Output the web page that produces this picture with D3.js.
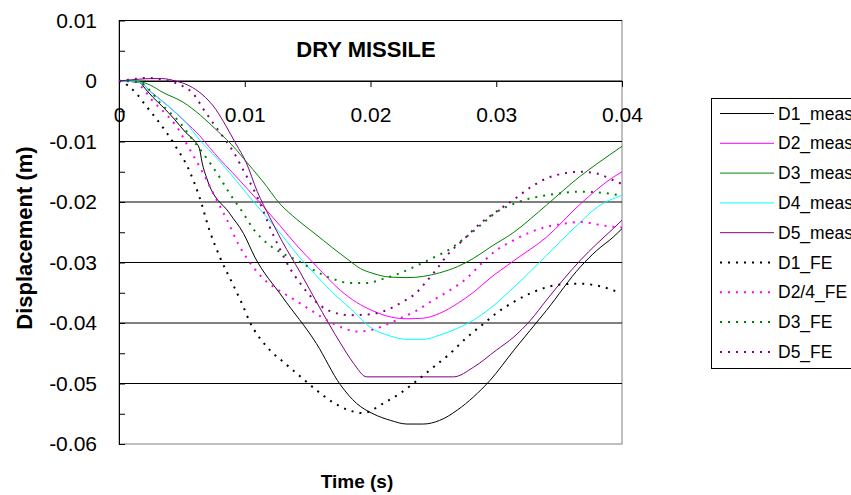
<!DOCTYPE html>
<html>
<head>
<meta charset="utf-8">
<script src="https://cdn.jsdelivr.net/npm/d3@7"></script>
<style>
  body { margin: 0; background: #fff; }
  svg text { font-family: "Liberation Sans", Arial, sans-serif; fill: #000; }
</style>
</head>
<body>
<div id="chart"></div>
<script>
// values: [time (s), displacement (m)]
var d1Meas = [[0,0],[0.0016,-0.0002],[0.0021,-0.0013],[0.0027,-0.0027],[0.0034,-0.0041],[0.0044,-0.0063],
  [0.0053,-0.0085],[0.0060,-0.0099],[0.0064,-0.0112],[0.0066,-0.0134],[0.0070,-0.0162],[0.0088,-0.0219],
  [0.0099,-0.0252],[0.0108,-0.0291],[0.0130,-0.0357],[0.0157,-0.0434],[0.0176,-0.0502],[0.0189,-0.0533],
  [0.0202,-0.0550],[0.0216,-0.0561],[0.0229,-0.0567],[0.0242,-0.0567],[0.0255,-0.0561],[0.0269,-0.0544],
  [0.0282,-0.0522],[0.0295,-0.0495],[0.0314,-0.0445],[0.0340,-0.0379],[0.0367,-0.0307],[0.0380,-0.0280],
  [0.0393,-0.0258],[0.0400,-0.0244]];
var d2Meas = [[0,0],[0.0016,-0.0002],[0.0026,-0.0019],[0.0040,-0.0043],[0.0053,-0.0068],[0.0064,-0.0090],
  [0.0072,-0.0110],[0.0080,-0.0129],[0.0090,-0.0151],[0.0102,-0.0178],[0.0115,-0.0208],[0.0128,-0.0239],
  [0.0141,-0.0271],[0.0157,-0.0306],[0.0176,-0.0346],[0.0189,-0.0366],[0.0202,-0.0380],[0.0216,-0.0390],
  [0.0229,-0.0393],[0.0242,-0.0392],[0.0255,-0.0384],[0.0269,-0.0368],[0.0282,-0.0349],[0.0295,-0.0326],
  [0.0314,-0.0297],[0.0340,-0.0258],[0.0367,-0.0203],[0.0393,-0.0159],[0.0400,-0.0150]];
var d3Meas = [[0,0],[0.0016,-0.0001],[0.0025,-0.0007],[0.0035,-0.0019],[0.0051,-0.0035],[0.0065,-0.0057],
  [0.0078,-0.0082],[0.0093,-0.0113],[0.0099,-0.0128],[0.0114,-0.0165],[0.0128,-0.0203],[0.0141,-0.0228],
  [0.0155,-0.0251],[0.0170,-0.0276],[0.0182,-0.0295],[0.0192,-0.0310],[0.0202,-0.0318],[0.0215,-0.0324],
  [0.0229,-0.0325],[0.0242,-0.0323],[0.0255,-0.0317],[0.0269,-0.0307],[0.0282,-0.0293],[0.0295,-0.0275],
  [0.0314,-0.0250],[0.0340,-0.0205],[0.0367,-0.0157],[0.0380,-0.0137],[0.0400,-0.0108]];
var d4Meas = [[0,0],[0.0016,-0.0002],[0.0026,-0.0020],[0.0040,-0.0043],[0.0053,-0.0068],[0.0064,-0.0097],
  [0.0078,-0.0128],[0.0091,-0.0159],[0.0104,-0.0192],[0.0117,-0.0224],[0.0130,-0.0256],[0.0143,-0.0290],
  [0.0157,-0.0322],[0.0170,-0.0350],[0.0184,-0.0376],[0.0202,-0.0410],[0.0215,-0.0421],[0.0229,-0.0427],
  [0.0242,-0.0427],[0.0255,-0.0420],[0.0269,-0.0409],[0.0282,-0.0395],[0.0295,-0.0376],[0.0314,-0.0341],
  [0.0340,-0.0288],[0.0367,-0.0233],[0.0380,-0.0209],[0.0400,-0.0189]];
var d5Meas = [[0,0],[0.0016,0.0003],[0.0026,0.0004],[0.0034,0.0004],[0.0045,0],[0.0056,-0.0008],
  [0.0066,-0.0022],[0.0077,-0.0047],[0.0085,-0.0074],[0.0093,-0.0104],[0.0101,-0.0134],[0.0110,-0.0183],
  [0.0120,-0.0226],[0.0130,-0.0266],[0.0144,-0.0316],[0.0157,-0.0365],[0.0176,-0.0433],[0.0186,-0.0465],
  [0.0197,-0.0489],[0.0266,-0.0489],[0.0282,-0.0473],[0.0300,-0.0445],[0.0314,-0.0423],[0.0327,-0.0396],
  [0.0340,-0.0362],[0.0353,-0.0329],[0.0367,-0.0296],[0.0380,-0.0269],[0.0393,-0.0244],[0.0400,-0.0230]];
var d1FE = [[0,0],[0.0003,-0.0002],[0.0008,-0.0009],[0.0014,-0.0021],[0.0021,-0.0040],[0.0028,-0.0058],
  [0.0035,-0.0077],[0.0045,-0.0108],[0.0055,-0.0144],[0.0064,-0.0192],[0.0072,-0.0247],[0.0080,-0.0290],
  [0.0091,-0.0338],[0.0098,-0.0369],[0.0104,-0.0398],[0.0117,-0.0438],[0.0131,-0.0465],[0.0144,-0.0488],
  [0.0157,-0.0511],[0.0170,-0.0531],[0.0184,-0.0545],[0.0194,-0.0549],[0.0210,-0.0533],[0.0223,-0.0517],
  [0.0237,-0.0495],[0.0250,-0.0473],[0.0263,-0.0451],[0.0276,-0.0425],[0.0290,-0.0401],[0.0300,-0.0384],
  [0.0314,-0.0365],[0.0327,-0.0351],[0.0340,-0.0341],[0.0353,-0.0336],[0.0367,-0.0335],[0.0380,-0.0338],
  [0.0397,-0.0349]];
var d24FE = [[0,0],[0.0011,0],[0.0018,-0.0010],[0.0026,-0.0031],[0.0036,-0.0052],[0.0045,-0.0073],
  [0.0056,-0.0112],[0.0067,-0.0153],[0.0075,-0.0186],[0.0086,-0.0230],[0.0095,-0.0270],[0.0103,-0.0297],
  [0.0110,-0.0316],[0.0117,-0.0331],[0.0125,-0.0343],[0.0139,-0.0361],[0.0152,-0.0378],[0.0165,-0.0395],
  [0.0178,-0.0408],[0.0189,-0.0414],[0.0200,-0.0412],[0.0210,-0.0405],[0.0223,-0.0393],[0.0237,-0.0379],
  [0.0250,-0.0362],[0.0263,-0.0346],[0.0276,-0.0327],[0.0290,-0.0298],[0.0300,-0.0280],[0.0314,-0.0263],
  [0.0327,-0.0250],[0.0340,-0.0241],[0.0353,-0.0236],[0.0367,-0.0233],[0.0380,-0.0237],[0.0393,-0.0241],
  [0.0400,-0.0242]];
var d3FE = [[0,0],[0.0016,-0.0002],[0.0026,-0.0019],[0.0033,-0.0037],[0.0040,-0.0051],[0.0049,-0.0070],
  [0.0056,-0.0090],[0.0067,-0.0120],[0.0080,-0.0159],[0.0088,-0.0186],[0.0099,-0.0219],[0.0107,-0.0245],
  [0.0114,-0.0261],[0.0120,-0.0272],[0.0130,-0.0285],[0.0144,-0.0299],[0.0157,-0.0315],[0.0170,-0.0327],
  [0.0184,-0.0334],[0.0197,-0.0334],[0.0210,-0.0327],[0.0223,-0.0318],[0.0237,-0.0305],[0.0250,-0.0292],
  [0.0263,-0.0278],[0.0276,-0.0258],[0.0290,-0.0234],[0.0300,-0.0217],[0.0314,-0.0203],[0.0327,-0.0194],
  [0.0340,-0.0189],[0.0353,-0.0185],[0.0367,-0.0183],[0.0380,-0.0184],[0.0393,-0.0187],[0.0400,-0.0190]];
var d5FE = [[0,0],[0.0011,0.0003],[0.0022,0.0005],[0.0033,0.0003],[0.0043,-0.0002],[0.0051,-0.0009],
  [0.0059,-0.0021],[0.0067,-0.0046],[0.0075,-0.0070],[0.0083,-0.0093],[0.0091,-0.0117],[0.0099,-0.0148],
  [0.0110,-0.0192],[0.0115,-0.0216],[0.0120,-0.0242],[0.0128,-0.0278],[0.0136,-0.0310],[0.0144,-0.0334],
  [0.0152,-0.0355],[0.0160,-0.0371],[0.0170,-0.0382],[0.0184,-0.0387],[0.0197,-0.0386],[0.0210,-0.0381],
  [0.0223,-0.0368],[0.0237,-0.0349],[0.0245,-0.0330],[0.0253,-0.0310],[0.0261,-0.0288],[0.0274,-0.0262],
  [0.0287,-0.0236],[0.0300,-0.0216],[0.0314,-0.0196],[0.0327,-0.0176],[0.0340,-0.0161],[0.0353,-0.0153],
  [0.0367,-0.0150],[0.0380,-0.0153],[0.0388,-0.0159],[0.0396,-0.0167],[0.0400,-0.0170]];

var seriesNames = ["D1_meas", "D2_meas", "D3_meas", "D4_meas", "D5_meas", "D1_FE", "D2/4_FE", "D3_FE", "D5_FE"];
var seriesData = [d1Meas, d2Meas, d3Meas, d4Meas, d5Meas, d1FE, d24FE, d3FE, d5FE];
var xTicks = [0, 0.01, 0.02, 0.03, 0.04];
var yTicks = [0.01, 0, -0.01, -0.02, -0.03, -0.04, -0.05, -0.06];
var yMinorTicks = [0.01, 0.005, 0, -0.005, -0.01, -0.015, -0.02, -0.025, -0.03, -0.035, -0.04, -0.045, -0.05, -0.055, -0.06];

// styles
var colors = ["#000000", "#ff00ff", "#008000", "#00ffff", "#800080", "#000000", "#ff00ff", "#008000", "#800080"];
var dotted = [false, false, false, false, false, true, true, true, true];

var svgWidth = 851;
var svgHeight = 495;

var svg = d3.select("#chart")
  .append("svg")
  .attr("width", svgWidth)
  .attr("height", svgHeight);

var x = d3.scaleLinear().domain([0, 0.04]).range([119, 622]);
var y = d3.scaleLinear().domain([0.01, -0.06]).range([20.5, 444]);

function fmt(d) {
  return d === 0 ? "0" : d3.format(".2f")(d).replace("−", "-");
}

// plot area border
svg.append("rect")
  .attr("x", x(0)).attr("y", y(0.01))
  .attr("width", x(0.04) - x(0)).attr("height", y(-0.06) - y(0.01))
  .attr("fill", "none").attr("stroke", "#808080");

// gridlines
svg.append("g").selectAll("line")
  .data(yTicks.slice(0, -1))
  .enter().append("line")
  .attr("x1", x(0)).attr("x2", x(0.04))
  .attr("y1", d => y(d)).attr("y2", d => y(d))
  .attr("stroke", "#000");

// y axis (inner ticks)
var yAxis = svg.append("g")
  .attr("transform", `translate(${x(0)},0)`)
  .call(d3.axisLeft(y).tickValues(yMinorTicks).tickSize(-6).tickSizeOuter(0)
    .tickPadding(22)
    .tickFormat(d => yTicks.some(v => Math.abs(v - d) < 1e-9) ? fmt(d) : ""));
yAxis.select(".domain").attr("stroke", "#000");
yAxis.selectAll("text").style("font-size", "21px").attr("fill", "#000");

// x axis crossing at zero
var xAxis = svg.append("g")
  .attr("transform", `translate(0,${y(0)})`)
  .call(d3.axisBottom(x).tickValues(xTicks).tickSize(6).tickSizeOuter(0)
    .tickPadding(20).tickFormat(fmt));
xAxis.select(".domain").attr("stroke", "#000");
xAxis.selectAll("text").style("font-size", "21px").attr("fill", "#000");

// series
var line = d3.line()
  .x(d => x(d[0]))
  .y(d => y(d[1]))
  .curve(d3.curveMonotoneX);

seriesData.forEach(function(data, i) {
  svg.append("path")
    .datum(data)
    .attr("d", line)
    .attr("fill", "none")
    .attr("stroke", colors[i])
    .attr("stroke-width", dotted[i] ? 2 : 1)
    .attr("stroke-dasharray", dotted[i] ? "2,6" : null);
});

// title + axis labels
svg.append("text")
  .attr("x", 366).attr("y", 57)
  .attr("text-anchor", "middle")
  .style("font-size", "22px").style("font-weight", "bold")
  .text("DRY MISSILE");

svg.append("text")
  .attr("transform", "translate(32,238) rotate(-90)")
  .attr("text-anchor", "middle")
  .style("font-size", "22px").style("font-weight", "bold")
  .text("Displacement (m)");

svg.append("text")
  .attr("x", 357).attr("y", 488)
  .attr("text-anchor", "middle")
  .style("font-size", "19px").style("font-weight", "bold")
  .text("Time (s)");

// legend
var legend = svg.append("g");
legend.append("rect")
  .attr("x", 711.5).attr("y", 98.5)
  .attr("width", 150).attr("height", 270)
  .attr("fill", "#fff").attr("stroke", "#000");

var items = legend.selectAll("g.item")
  .data(seriesNames)
  .enter().append("g")
  .attr("class", "item")
  .attr("transform", (d, i) => `translate(0,${113.5 + i * 29.8})`);

items.append("line")
  .attr("x1", 720).attr("x2", 774)
  .attr("stroke", (d, i) => colors[i])
  .attr("stroke-width", (d, i) => dotted[i] ? 2 : 1)
  .attr("stroke-dasharray", (d, i) => dotted[i] ? "2,6" : null);

items.append("text")
  .attr("x", 778).attr("y", 6)
  .style("font-size", "17.5px")
  .text(d => d);
</script>
</body>
</html>
